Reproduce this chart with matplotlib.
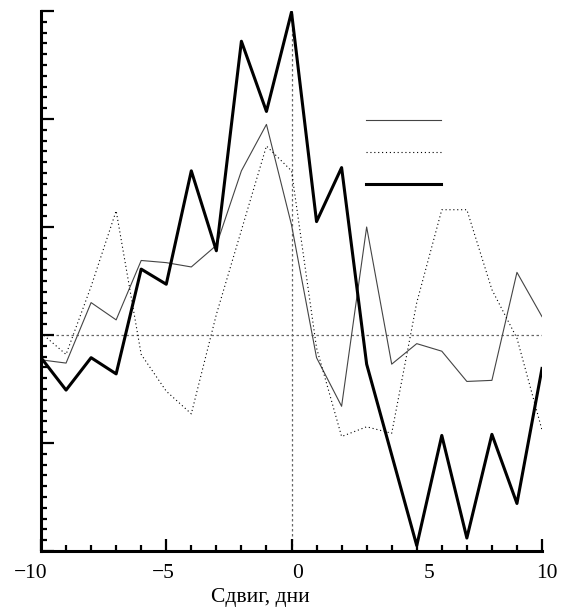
import numpy as np
import matplotlib
matplotlib.use("Agg")
import matplotlib.pyplot as plt
import matplotlib.transforms as mtransforms
from matplotlib.ticker import MultipleLocator, NullFormatter

plt.rcParams['font.family'] = ['Liberation Serif', 'DejaVu Serif']

# shift in days
shift = np.arange(-10, 11)

# three series
thin = [-0.23, -0.26, 0.30, 0.14, 0.69, 0.67, 0.63, 0.83, 1.52, 1.95, 1.02,
        -0.21, -0.66, 1.00, -0.27, -0.08, -0.15, -0.43, -0.42, 0.58, 0.17]
dotted = [0.02, -0.18, 0.45, 1.15, -0.18, -0.52, -0.73, 0.19, 0.97, 1.75, 1.52,
          -0.12, -0.94, -0.85, -0.91, 0.30, 1.16, 1.16, 0.42, -0.03, -0.88]
thick = [-0.21, -0.51, -0.21, -0.36, 0.61, 0.47, 1.52, 0.78, 2.72, 2.07, 2.99,
         1.05, 1.55, -0.27, -1.11, -1.95, -0.93, -1.88, -0.92, -1.56, -0.31]

xticks = [-10, -5, 0, 5, 10]
xticklabels = ['\u221210', '\u22125', '0', '5', '10']
xlabel = 'Сдвиг, дни'

fig = plt.figure(figsize=(5.62, 6.07), dpi=100)
ax = fig.add_axes([41 / 562, 56 / 607, 501 / 562, 540 / 607])

# reference lines at zero
ax.axhline(0, color='#666666', lw=0.9, ls=(0, (2, 2)), zorder=1)
ax.axvline(0, color='#666666', lw=0.9, ls=(0, (2, 2)), zorder=1)

l1, = ax.plot(shift, thin, color='#444444', lw=0.8, zorder=3)
l2, = ax.plot(shift, dotted, color='black', lw=0.8, ls=(0, (1, 2.5)), zorder=3)
l3, = ax.plot(shift, thick, color='black', lw=2.2, zorder=4)

ax.set_xlim(-10, 10)
ax.set_ylim(-2, 3)

for side in ['top', 'right']:
    ax.spines[side].set_visible(False)
for side in ['left', 'bottom']:
    ax.spines[side].set_linewidth(2.2)

ax.set_xticks(xticks)
ax.set_xticklabels(xticklabels, fontsize=15.5)
ax.xaxis.set_minor_locator(MultipleLocator(1))
ax.yaxis.set_major_locator(MultipleLocator(1))
ax.yaxis.set_minor_locator(MultipleLocator(0.1))
ax.yaxis.set_major_formatter(NullFormatter())
ax.tick_params(which='major', direction='in', length=9, width=1.6)
ax.tick_params(which='minor', direction='in', length=4.5, width=1.6)
ax.tick_params(axis='x', which='major', pad=9)

# the original labels sit slightly off their ticks
offsets = [-10, -3, 6, 12, 5]
for lab, dx in zip(ax.get_xticklabels(), offsets):
    lab.set_transform(lab.get_transform() +
                      mtransforms.ScaledTranslation(dx / 100, 0, fig.dpi_scale_trans))

ax.set_xlabel(xlabel, fontsize=15.5)
ax.xaxis.set_label_coords((260 - 41) / 501, -0.068)

leg = ax.legend([l1, l2, l3], ['', '', ''], loc='upper left',
                bbox_to_anchor=((366 - 41) / 501, (551 - 115) / 540),
                frameon=False, fontsize=10, handlelength=5.4,
                handletextpad=0, borderpad=0, borderaxespad=0,
                labelspacing=1.38)

fig.savefig('out.png', dpi=100)
